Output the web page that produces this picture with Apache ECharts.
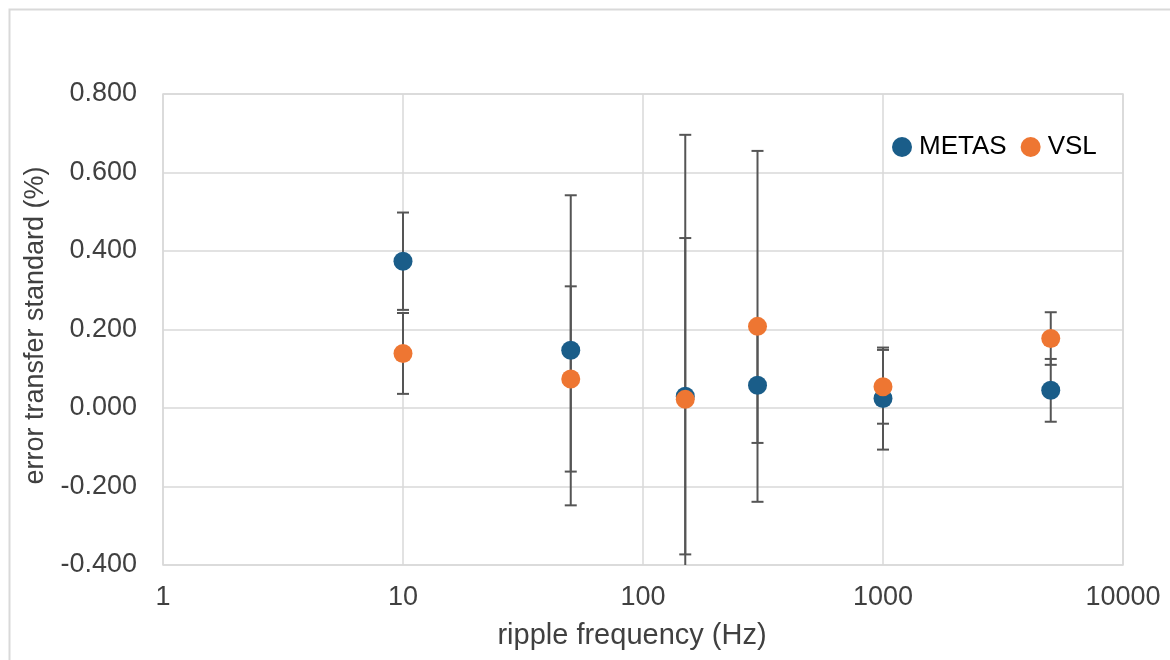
<!DOCTYPE html>
<html>
<head>
<meta charset="utf-8">
<script src="https://cdn.jsdelivr.net/npm/echarts@6/dist/echarts.min.js"></script>
<style>
html,body{margin:0;padding:0;background:#fff;}
#chart{width:1170px;height:660px;}
</style>
</head>
<body>
<div id="chart"></div>
<script>
const frequencies = [10, 50, 150, 300, 1000, 5000];
const metasValues = [0.374, 0.147, 0.030, 0.058, 0.024, 0.045];
const metasErrors = [0.124, 0.395, 0.403, 0.147, 0.130, 0.080];
const vslValues = [0.139, 0.074, 0.022, 0.208, 0.054, 0.177];
const vslErrors = [0.103, 0.236, 0.674, 0.447, 0.094, 0.067];
const xTicks = [1, 10, 100, 1000, 10000];
const yTicks = [-0.4, -0.2, 0, 0.2, 0.4, 0.6, 0.8];

const FONT = 'Liberation Sans, Arial, sans-serif';
const TEXT = '#404040';
const GRID = '#d9d9d9';
const BLUE = '#1a5d89';
const ORANGE = '#ee7632';

function errData(vals, errs) {
  return frequencies.map((f, i) => [f, vals[i] - errs[i], vals[i] + errs[i]]);
}
function errRender(params, api) {
  const x = api.value(0);
  const lo = api.coord([x, api.value(1)]);
  const hi = api.coord([x, api.value(2)]);
  const cap = 6;
  const style = {stroke: '#555555', lineWidth: 2};
  return {
    type: 'group',
    children: [
      {type: 'line', shape: {x1: lo[0], y1: lo[1], x2: hi[0], y2: hi[1]}, style},
      {type: 'line', shape: {x1: lo[0] - cap, y1: lo[1], x2: lo[0] + cap, y2: lo[1]}, style},
      {type: 'line', shape: {x1: hi[0] - cap, y1: hi[1], x2: hi[0] + cap, y2: hi[1]}, style}
    ]
  };
}

const chart = echarts.init(document.getElementById('chart'), null, {renderer: 'canvas'});
chart.setOption({
  animation: false,
  backgroundColor: '#fff',
  graphic: [{
    type: 'rect', left: 7, top: 7, silent: true,
    shape: {width: 1200, height: 700},
    style: {fill: 'none', stroke: GRID, lineWidth: 2}
  }],
  grid: {left: 163, top: 94, width: 960, height: 471, show: true, borderColor: GRID, borderWidth: 1.5},
  legend: {
    left: 892, top: 134, padding: 0,
    itemWidth: 20, itemHeight: 20, itemGap: 14,
    icon: 'circle',
    textStyle: {fontFamily: FONT, fontSize: 26, color: '#000', padding: [0, 0, 0, 2]},
    data: ['METAS', 'VSL']
  },
  xAxis: {
    type: 'log', logBase: 10, min: 1, max: 10000,
    name: 'ripple frequency (Hz)', nameLocation: 'middle', nameGap: 56,
    nameTextStyle: {fontFamily: FONT, fontSize: 29, color: TEXT, padding: [0, 22, 0, 0]},
    axisLine: {show: false}, axisTick: {show: false},
    axisLabel: {fontFamily: FONT, fontSize: 27, color: TEXT, margin: 19,
      formatter: v => xTicks.includes(Math.round(v)) ? String(Math.round(v)) : ''},
    splitLine: {show: true, lineStyle: {color: GRID, width: 1.5}},
    minorSplitLine: {show: false}
  },
  yAxis: {
    type: 'value', min: -0.4, max: 0.8, interval: 0.2,
    name: 'error transfer standard (%)', nameLocation: 'middle', nameGap: 112,
    nameTextStyle: {fontFamily: FONT, fontSize: 27, color: TEXT, padding: [0, 0, 0, 8]},
    axisLine: {show: false}, axisTick: {show: false},
    axisLabel: {fontFamily: FONT, fontSize: 27, color: TEXT, margin: 26,
      formatter: v => {
        const t = yTicks.find(y => Math.abs(y - v) < 1e-9);
        return t === undefined ? '' : (Math.abs(t) < 1e-9 ? 0 : t).toFixed(3);
      }},
    splitLine: {show: true, lineStyle: {color: GRID, width: 1.5}}
  },
  series: [
    {name: 'METAS err', type: 'custom', renderItem: errRender, data: errData(metasValues, metasErrors),
     encode: {x: 0, y: [1, 2]}, clip: true, z: 1, silent: true},
    {name: 'VSL err', type: 'custom', renderItem: errRender, data: errData(vslValues, vslErrors),
     encode: {x: 0, y: [1, 2]}, clip: true, z: 1, silent: true},
    {name: 'METAS', type: 'scatter', symbolSize: 19, z: 3,
     itemStyle: {color: BLUE, opacity: 1},
     data: frequencies.map((f, i) => [f, metasValues[i]])},
    {name: 'VSL', type: 'scatter', symbolSize: 19, z: 4,
     itemStyle: {color: ORANGE, opacity: 1},
     data: frequencies.map((f, i) => [f, vslValues[i]])}
  ]
});
</script>
</body>
</html>
